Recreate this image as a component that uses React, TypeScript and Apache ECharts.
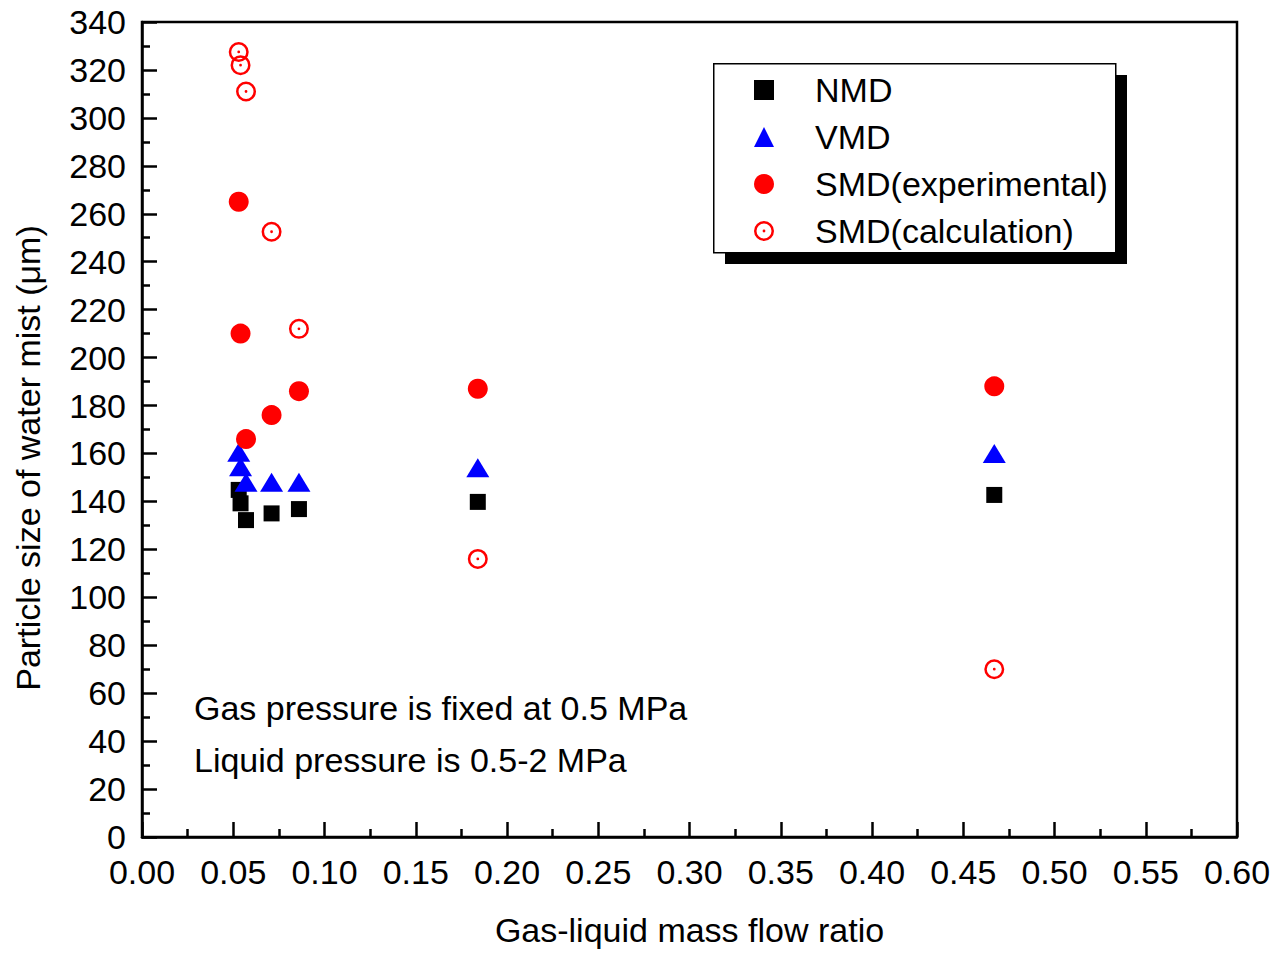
import React, { useEffect, useRef } from "react";
import * as echarts from "echarts";

const ratios = [0.053, 0.054, 0.057, 0.071, 0.086, 0.184, 0.467];
const nmd = [144.8, 139.2, 132.2, 135, 136.8, 139.8, 142.7];
const vmd = [160.5, 154.5, 148, 148, 148, 154, 160];
const smdExp = [265, 210, 166, 176, 186, 187, 188];
const smdCalc = [327.5, 322, 311, 252.5, 212, 116, 70];
const seriesNames = ["NMD", "VMD", "SMD(experimental)", "SMD(calculation)"];
const notes = ["Gas pressure is fixed at 0.5 MPa", "Liquid pressure is 0.5-2 MPa"];
const xTitle = "Gas-liquid mass flow ratio";
const yTitle = "Particle size of water mist (\u03bcm)";

const FONT = "'Liberation Sans', Arial, sans-serif";
const FS = 34;
const ringPath =
  "path://M10 0 A10 10 0 1 1 10 20 A10 10 0 1 1 10 0 Z M10 2.5 A7.5 7.5 0 1 0 10 17.5 A7.5 7.5 0 1 0 10 2.5 Z M10 8.6 A1.4 1.4 0 1 1 10 11.4 A1.4 1.4 0 1 1 10 8.6 Z";

const pairs = (ys: number[]) => ratios.map((x, i) => [x, ys[i]]);

export default function App() {
  const ref = useRef<HTMLDivElement>(null);
  useEffect(() => {
    document.body.style.margin = "0";
    const chart = echarts.init(ref.current!, undefined, { renderer: "svg" });
    const axisCommon = {
      axisLine: { show: true, lineStyle: { color: "#000", width: 2.5 } },
      axisTick: { show: true, inside: true, length: 15, lineStyle: { color: "#000", width: 2.5 } },
      minorTick: { show: true, splitNumber: 2, length: 8, lineStyle: { color: "#000", width: 2.5 } },
      splitLine: { show: false },
      nameTextStyle: { fontFamily: FONT, fontSize: FS, color: "#000" },
    };
    chart.setOption({
      animation: false,
      backgroundColor: "#fff",
      grid: {
        left: 142, right: 50, top: 22, bottom: 116,
        outerBoundsMode: "none", containLabel: false,
        show: true, borderColor: "#000", borderWidth: 2.5, backgroundColor: "transparent",
      },
      xAxis: {
        type: "value", min: 0, max: 0.6, interval: 0.05,
        name: xTitle, nameLocation: "middle", nameGap: 76,
        axisLabel: {
          fontFamily: FONT, fontSize: FS, color: "#000", margin: 22, lineHeight: 26,
          formatter: (v: number) => v.toFixed(2),
        },
        ...axisCommon,
      },
      yAxis: {
        type: "value", min: 0, max: 340, interval: 20,
        axisLabel: { fontFamily: FONT, fontSize: FS, color: "#000", margin: 16, lineHeight: 26 },
        ...axisCommon,
      },
      legend: {
        orient: "vertical", left: 754, top: 73, padding: 0,
        itemWidth: 20, itemHeight: 20, itemGap: 13,
        data: [
          { name: seriesNames[0], icon: "rect" },
          { name: seriesNames[1], icon: "triangle" },
          { name: seriesNames[2], icon: "circle" },
          { name: seriesNames[3], icon: ringPath },
        ],
        textStyle: {
          fontFamily: FONT, fontSize: FS, color: "#000", lineHeight: 30,
          padding: [0, 0, 0, 36],
        },
        z: 10,
      },
      graphic: [
        { type: "rect", left: 725, top: 75, z: 1, shape: { width: 402, height: 189 }, style: { fill: "#000" } },
        { type: "rect", left: 713, top: 63, z: 2, shape: { width: 402, height: 189 }, style: { fill: "#fff", stroke: "#000", lineWidth: 1.5 } },
        { type: "text", x: 194, y: 708, z: 3, style: { text: notes[0], fontFamily: FONT, fontSize: FS, fill: "#000", verticalAlign: "middle" } },
        { type: "text", x: 194, y: 760, z: 3, style: { text: notes[1], fontFamily: FONT, fontSize: FS, fill: "#000", verticalAlign: "middle" } },
        {
          type: "text", x: 28, y: 458, rotation: Math.PI / 2, z: 3,
          style: { text: yTitle, fontFamily: FONT, fontSize: FS, fill: "#000", align: "center", verticalAlign: "middle" },
        },
      ],
      series: [
        { name: seriesNames[0], type: "scatter", symbol: "rect", symbolSize: 16, itemStyle: { color: "#000", opacity: 1 }, data: pairs(nmd), z: 3 },
        { name: seriesNames[1], type: "scatter", symbol: "triangle", symbolSize: [23, 19], itemStyle: { color: "#0000ff", opacity: 1 }, data: pairs(vmd), z: 4 },
        { name: seriesNames[2], type: "scatter", symbol: "circle", symbolSize: 20, itemStyle: { color: "#ff0000", opacity: 1 }, data: pairs(smdExp), z: 5 },
        { name: seriesNames[3], type: "scatter", symbol: ringPath, symbolSize: 20, itemStyle: { color: "#ff0000", opacity: 1 }, data: pairs(smdCalc), z: 5 },
      ],
    });
    return () => chart.dispose();
  }, []);
  return <div ref={ref} style={{ width: 1287, height: 953 }} />;
}
